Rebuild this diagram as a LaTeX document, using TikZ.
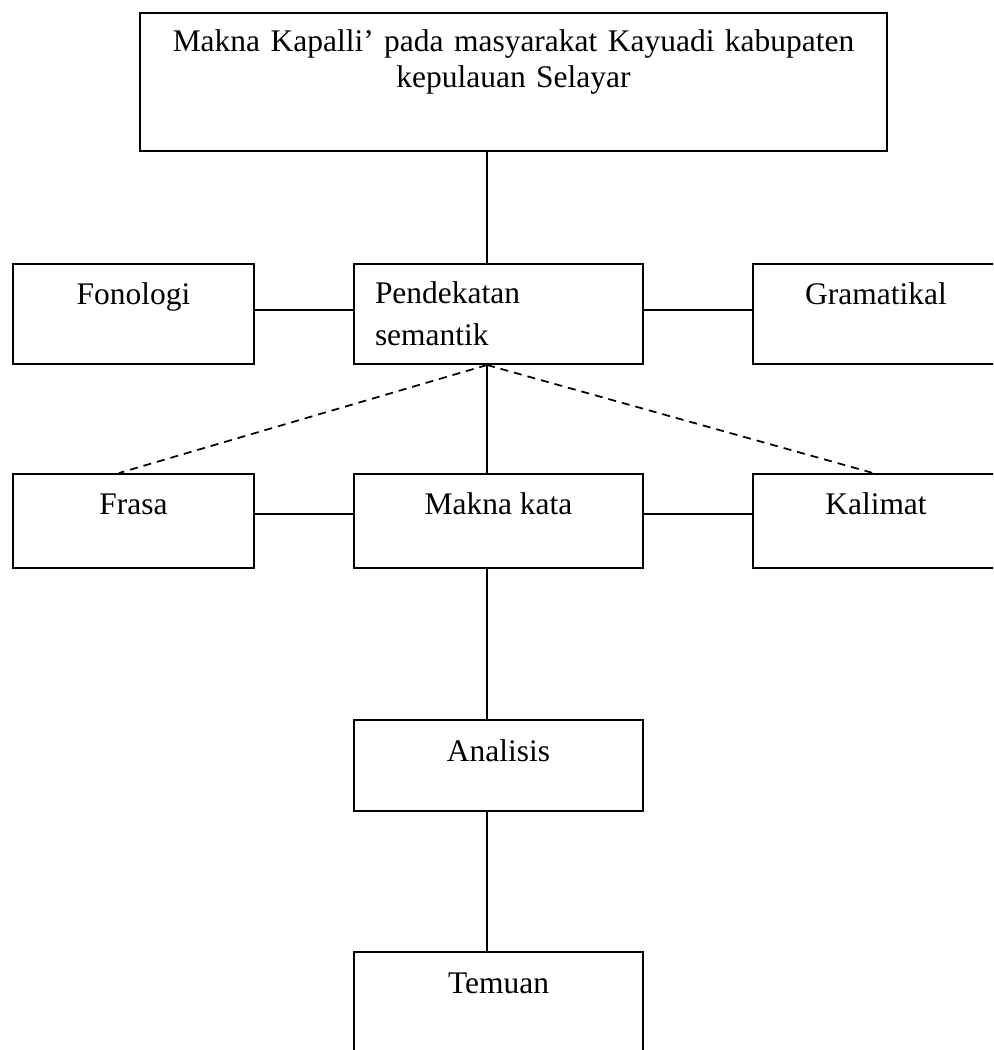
\documentclass[tikz,border=0pt]{standalone}
\usepackage{fontspec}
\setmainfont{Liberation Serif}
\tikzset{every picture/.style={line width=0.75pt}}
\tikzset{
  kotak/.style={draw, line width=1.5pt, rectangle, inner sep=0pt, anchor=north west, font=\fontsize{23.6}{27}\selectfont},
  hubung/.style={line width=1.3pt},
  putus/.style={line width=1.3pt, dash pattern={on 6pt off 4.5pt}}
}

\begin{document}
\begin{tikzpicture}[x=0.75pt,y=0.75pt,yscale=-1,xscale=1]
\useasboundingbox (0,0) rectangle (993,1050);
\clip (0,0) rectangle (993,1050);

\coordinate (poros) at (487,0);

\node [kotak, minimum width=560.25pt, text width=560.25pt, align=center, text height=28.5pt, text depth=75pt] (judul) at (139,12) {Makna Kapalli’ pada masyarakat Kayuadi kabupaten\\ kepulauan Selayar};

\node [kotak, minimum width=180.75pt, text height=30pt, text depth=45pt] (fonologi) at (12,263) {Fonologi};
\node [kotak, text width=185.25pt, inner xsep=15.75pt, align=left, text height=29.25pt, text depth=45.75pt, font=\fontsize{23.6}{31.5}\selectfont] (pendekatan) at (353,263) {Pendekatan\\ semantik};
\node [kotak, minimum width=184.5pt, text height=30pt, text depth=45pt] (gramatikal) at (752,263) {Gramatikal};

\node [kotak, minimum width=180.75pt, text height=30pt, text depth=40.5pt] (frasa) at (12,473) {Frasa};
\node [kotak, minimum width=216.75pt, text height=30pt, text depth=40.5pt] (maknakata) at (353,473) {Makna kata};
\node [kotak, minimum width=184.5pt, text height=30pt, text depth=40.5pt] (kalimat) at (752,473) {Kalimat};

\node [kotak, minimum width=216.75pt, text height=30.75pt, text depth=37.5pt] (analisis) at (353,719) {Analisis};
\node [kotak, minimum width=216.75pt, text height=30.75pt, text depth=60pt] (temuan) at (353,951) {Temuan};

\draw [hubung] (judul.south -| poros) -- (pendekatan.north -| poros);
\draw [hubung] ([yshift=-3pt]fonologi.east) -- ([yshift=-3pt]pendekatan.west);
\draw [hubung] ([yshift=-3pt]pendekatan.east) -- ([yshift=-3pt]gramatikal.west);
\draw [hubung] (pendekatan.south -| poros) -- (maknakata.north -| poros);
\draw [putus] (pendekatan.south -| poros) -- ([xshift=-10.9pt]frasa.north);
\draw [putus] (pendekatan.south -| poros) -- ([xshift=-2.25pt]kalimat.north);
\draw [hubung] ([yshift=-5.25pt]frasa.east) -- ([yshift=-5.25pt]maknakata.west);
\draw [hubung] ([yshift=-5.25pt]maknakata.east) -- ([yshift=-5.25pt]kalimat.west);
\draw [hubung] (maknakata.south -| poros) -- (analisis.north -| poros);
\draw [hubung] (analisis.south -| poros) -- (temuan.north -| poros);
\end{tikzpicture}
\end{document}
